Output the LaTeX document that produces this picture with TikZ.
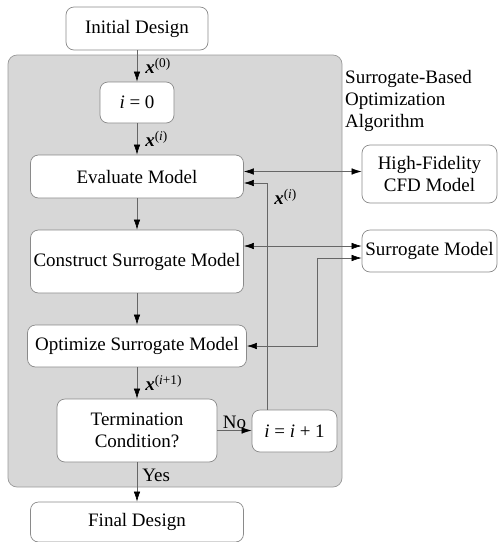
\documentclass[tikz,border=0pt]{standalone}
\usepackage{fontspec}
\setmainfont{Liberation Serif}
\usetikzlibrary{arrows.meta, positioning}
\definecolor{PanelGray}{HTML}{D7D7D7}
\definecolor{PanelEdge}{HTML}{9A9A9A}
\definecolor{BoxEdge}{HTML}{8A8A8A}
\definecolor{LineGray}{HTML}{666666}
\newcommand{\itervec}[1]{\textbf{\textit{x}}\textsuperscript{(#1)}}
\tikzset{
  stepbox/.style={draw=BoxEdge, line width=0.7pt, fill=white,
                  rounded corners=8pt, align=center, inner sep=0pt,
                  font=\fontsize{19}{21.5}\selectfont},
  panel/.style={draw=PanelEdge, line width=0.7pt, fill=PanelGray,
                rounded corners=9pt},
  panellab/.style={font=\fontsize{19}{22}\selectfont, align=left,
                   inner sep=0pt, anchor=north west},
  flowarrow/.style={-{Latex[length=10pt, width=6.5pt, color=black]},
                    draw=LineGray, line width=0.6pt},
  duoarrow/.style={{Latex[length=10pt, width=6.5pt, color=black]}-{Latex[length=10pt, width=6.5pt, color=black]},
                   draw=LineGray, line width=0.6pt},
  veclab/.style={font=\fontsize{19}{21}\selectfont, inner sep=3pt},
}

\begin{document}
\begin{tikzpicture}[x=1pt, y=-1pt]
  \useasboundingbox (0,0) rectangle (498,542);
  % grey frame of the loop
  \draw[panel] (8,55) rectangle (342,487);
  \node[panellab] (sbolab) at (345,70)
    {Surrogate-Based\\Optimization\\Algorithm};

  \node[stepbox, minimum width=142, minimum height=43] (init) at (137,28.5)
    {Initial Design};
  \node[stepbox, minimum width=74, minimum height=41] (izero) at (137,102.5)
    {\textit{i} = 0};
  \node[stepbox, minimum width=213, minimum height=43] (evalm) at (137,176.5)
    {Evaluate Model};
  \node[stepbox, minimum width=213, minimum height=63] (build) at (137,261.5)
    {Construct Surrogate Model};
  \node[stepbox, minimum width=219, minimum height=42] (optim) at (137,346)
    {Optimize Surrogate Model};
  \node[stepbox, minimum width=160, minimum height=63] (term) at (137,430.5)
    {Termination\\Condition?};
  \node[stepbox, minimum width=85, minimum height=42] (incr) at (294.5,431)
    {\textit{i} = \textit{i} + 1};
  \node[stepbox, minimum width=213, minimum height=40] (final) at (137,522)
    {Final Design};
  \node[stepbox, minimum width=135, minimum height=58] (hifi) at (429.5,174)
    {High-Fidelity\\CFD Model};
  \node[stepbox, minimum width=135, minimum height=42] (surr) at (429.5,251)
    {Surrogate Model};

  % main chain
  \draw[flowarrow] (init) -- (izero)
    node[midway, right, veclab, xshift=5pt] {\itervec{0}};
  \draw[flowarrow] (izero) -- (evalm)
    node[midway, right, veclab, xshift=5pt] {\itervec{\textit{i}}};
  \draw[flowarrow] (evalm) -- (build);
  \draw[flowarrow] (build) -- (optim);
  \draw[flowarrow] (optim) -- (term)
    node[midway, right, veclab, xshift=5pt] {\itervec{\textit{i}+1}};
  \draw[flowarrow] (term) -- (final)
    node[pos=0.32, right, veclab, xshift=2pt] {Yes};
  \draw[flowarrow] (term.east) -- (term.east -| incr.west)
    node[midway, above, veclab, yshift=-1pt] {No};

  % loop back and model links
  \draw[flowarrow] ([xshift=-27.5pt]incr.north) |- ([yshift=-6.5pt]evalm.east)
    node[pos=0.47, right, veclab, xshift=4pt] {\itervec{\textit{i}}};
  \draw[duoarrow] ([yshift=5pt]evalm.east) -- ([yshift=5pt]evalm.east -| hifi.west);
  \draw[duoarrow] ([yshift=15.5pt]build.east) -- ([yshift=15.5pt]build.east -| surr.west);
  \draw[duoarrow] ([yshift=-7pt]surr.west) -- ++(-44,0) |- (optim.east);
\end{tikzpicture}
\end{document}
